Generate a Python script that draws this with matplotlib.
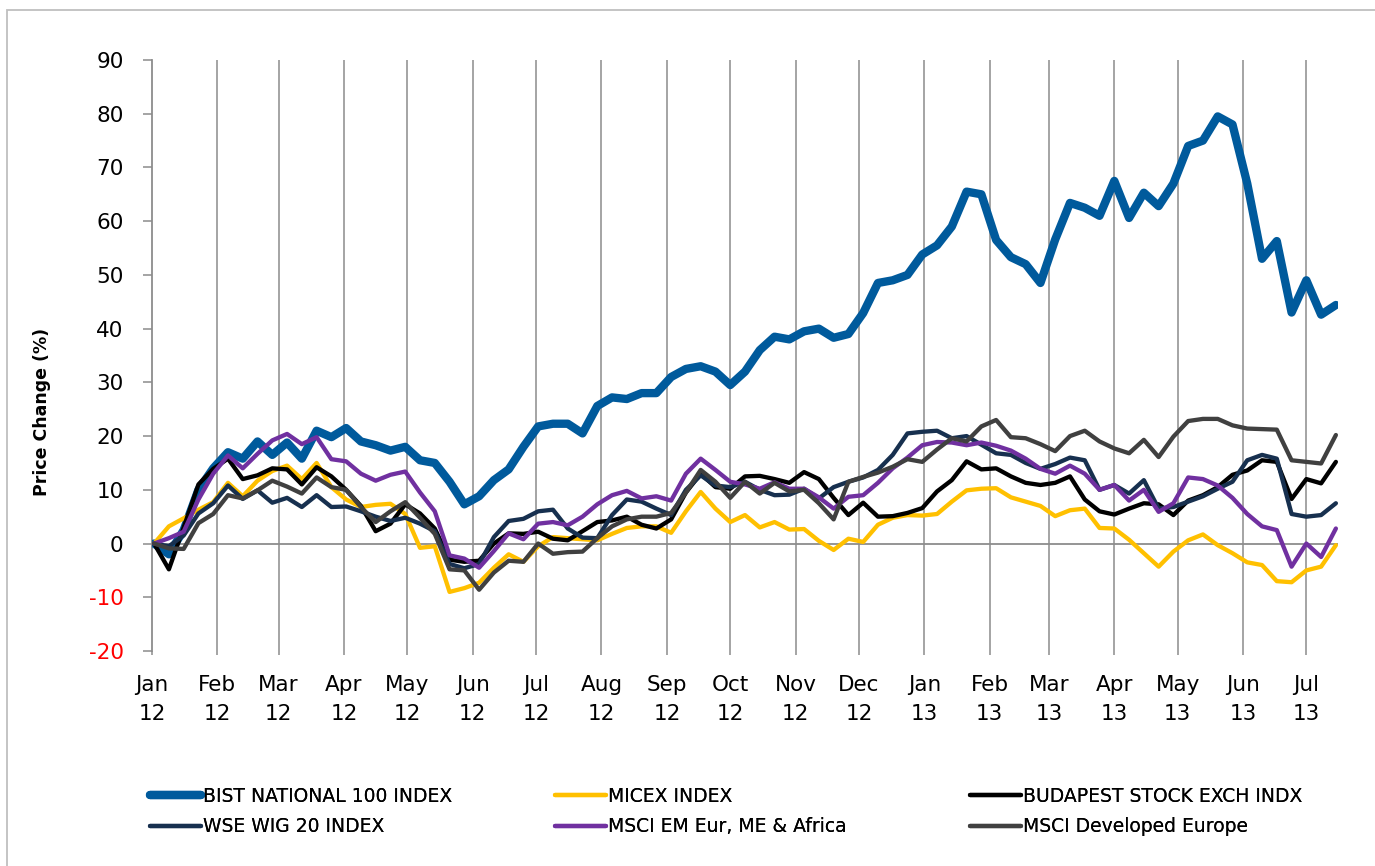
import numpy as np
import pandas as pd
import matplotlib
matplotlib.use("Agg")
import matplotlib.pyplot as plt
from matplotlib.patches import Rectangle
from matplotlib.lines import Line2D

plt.rcParams['font.family'] = ['DejaVu Sans']

# ---- data (weekly observations, % price change since start of 2012) ----
dates = pd.date_range("2012-01-02", periods=81, freq="7D")

bist = [0, -2, 2.5, 10, 14, 17, 15.8, 19, 16.5, 18.8,
        15.8, 21, 19.8, 21.5, 19, 18.3, 17.3, 18, 15.5, 15,
        11.5, 7.3, 8.8, 11.8, 13.8, 18, 21.8, 22.3, 22.3, 20.5,
        25.6, 27.2, 26.9, 28, 28, 31, 32.5, 33, 32, 29.5,
        32, 36, 38.5, 38, 39.5, 40, 38.3, 39, 42.9, 48.5,
        49, 50, 53.8, 55.5, 59, 65.5, 65, 56.5, 53.3, 52,
        48.5, 56.6, 63.4, 62.5, 61, 67.5, 60.6, 65.3, 62.8, 67,
        74, 75, 79.5, 78, 67, 53, 56.3, 43, 49, 42.6,
        44.4]

micex = [0, 3.2, 4.7, 6.3, 7.7, 11.3, 8.8, 11.7, 13.5, 14.5,
         12, 15, 10.5, 8.2, 6.8, 7.2, 7.4, 5.5, -0.8, -0.5,
         -9, -8.3, -7.3, -4.5, -2, -3.4, -0.5, 1.2, 1, 0.8,
         0.6, 1.8, 2.9, 3.2, 3.2, 2, 6, 9.6, 6.5, 4,
         5.3, 3, 4, 2.6, 2.7, 0.5, -1.2, 0.9, 0.3, 3.5,
         4.8, 5.3, 5.2, 5.5, 7.8, 9.9, 10.2, 10.3, 8.6, 7.8,
         7, 5.1, 6.2, 6.5, 2.9, 2.8, 0.7, -1.8, -4.3, -1.5,
         0.6, 1.7, -0.3, -1.8, -3.5, -4, -7, -7.2, -5, -4.3,
         -0.3]

budapest = [0, -4.8, 3, 11, 13.9, 15.8, 12, 12.7, 14, 13.8,
            11, 14.2, 12.5, 10, 7, 2.3, 3.7, 7.3, 5.6, 2.8,
            -3, -3.4, -3.2, 0, 1.9, 1.8, 2.2, 0.9, 0.6, 2.3,
            4, 4.3, 5, 3.5, 2.8, 4.5, 9.5, 13, 10.5, 10.2,
            12.5, 12.6, 12, 11.3, 13.3, 12, 8.5, 5.3, 7.6, 5,
            5.1, 5.7, 6.6, 9.7, 11.8, 15.3, 13.8, 14, 12.5, 11.3,
            10.9, 11.3, 12.5, 8.2, 6, 5.4, 6.5, 7.5, 7.3, 5.3,
            8, 9, 10.5, 12.8, 13.6, 15.5, 15.2, 8.3, 12, 11.2,
            15.2]

wse_wig20 = [0, -0.5, 1.5, 5.6, 7.5, 10.8, 8.3, 9.9, 7.6, 8.5,
             6.8, 9, 6.8, 6.9, 6, 5, 4.2, 4.8, 3.7, 2.3,
             -3.8, -4.6, -3.8, 1.2, 4.2, 4.6, 6, 6.3, 2.8, 1.1,
             1, 5.3, 8.2, 7.8, 6.5, 5.3, 10, 12.7, 10.8, 10.5,
             11.5, 10, 9, 9.1, 10.2, 8.4, 10.5, 11.5, 12.3, 13.7,
             16.5, 20.5, 20.8, 21, 19.6, 20, 18.4, 16.8, 16.5, 15,
             13.9, 14.8, 16, 15.5, 10, 10.9, 9.3, 11.8, 6.5, 6.8,
             7.8, 8.8, 10.2, 11.5, 15.5, 16.5, 15.8, 5.5, 5, 5.3,
             7.5]

msci_em = [0, 1, 2.2, 8.2, 13, 16.4, 14, 16.7, 19.2, 20.4,
           18.5, 19.8, 15.7, 15.3, 13, 11.7, 12.8, 13.4, 9.5, 6,
           -2.2, -2.8, -4.5, -1.4, 1.9, 0.8, 3.7, 4, 3.4, 5,
           7.3, 9, 9.8, 8.4, 8.8, 8, 13, 15.8, 13.7, 11.5,
           11, 10.2, 11.4, 10.2, 10.2, 8.6, 6.5, 8.7, 9, 11.3,
           14, 16, 18.3, 18.9, 18.8, 18.3, 18.8, 18.2, 17.3, 15.8,
           13.9, 13, 14.5, 13, 10, 10.9, 8, 10, 5.9, 7.5,
           12.3, 12, 10.8, 8.5, 5.5, 3.2, 2.5, -4.3, 0, -2.5,
           2.8]

msci_dev_europe = [0, -0.9, -1, 3.8, 5.5, 9, 8.4, 9.9, 11.7, 10.6,
                   9.3, 12.3, 10.5, 10, 6.8, 4, 6, 7.7, 4.8, 1.8,
                   -4.8, -5, -8.6, -5.4, -3.2, -3.4, 0, -1.9, -1.6, -1.5,
                   1, 3.2, 4.5, 5, 5, 5.7, 9.5, 13.7, 11.5, 8.5,
                   11.5, 9.3, 11.3, 9.7, 10, 7.5, 4.5, 11.5, 12.4, 13.2,
                   14.3, 15.7, 15.2, 17.5, 19.6, 19, 21.8, 23, 19.8, 19.6,
                   18.5, 17.2, 20, 21, 19, 17.7, 16.8, 19.3, 16.1, 19.9,
                   22.8, 23.2, 23.2, 22, 21.4, 21.3, 21.2, 15.5, 15.2, 14.9,
                   20.2]

series_names = ["BIST NATIONAL 100 INDEX", "MICEX INDEX", "BUDAPEST STOCK EXCH INDX",
                "WSE WIG 20 INDEX", "MSCI EM Eur, ME & Africa", "MSCI Developed Europe"]
series_values = [bist, micex, budapest, wse_wig20, msci_em, msci_dev_europe]
series_colors = ["#005A9C", "#FFC000", "#000000", "#17304F", "#7030A0", "#404040"]
series_widths = [6.0, 3.1, 3.1, 3.1, 3.1, 3.1]

month_ticks = pd.date_range("2012-01-01", "2013-07-01", freq="MS")
month_labels = [d.strftime("%b") + "\n" + d.strftime("%y") for d in month_ticks]
y_ticks = list(range(-20, 91, 10))

# ---- figure ----
W, H = 1375, 866
fig = plt.figure(figsize=(W / 100, H / 100), dpi=100)
fig.patch.set_facecolor("white")

left_px, right_px, top_px, bottom_px = 152, 1338, 60, 651
ax = fig.add_axes([left_px / W, 1 - bottom_px / H,
                   (right_px - left_px) / W, (bottom_px - top_px) / H])

grid_color = "#8C8C8C"
for mt in month_ticks[1:]:
    ax.axvline(mt, color=grid_color, lw=1.1, zorder=1)
ax.axhline(0, color=grid_color, lw=1.3, zorder=1)

for name, vals, col, lw in zip(series_names, series_values, series_colors, series_widths):
    ax.plot(dates, vals, color=col, lw=lw, label=name, zorder=3,
            solid_joinstyle="round", solid_capstyle="round")

ax.set_xlim(pd.Timestamp("2012-01-01"), pd.Timestamp("2013-07-16"))
ax.set_ylim(-20, 90)
ax.set_yticks(y_ticks)
ax.set_yticklabels([str(v) for v in y_ticks])
for lab, v in zip(ax.get_yticklabels(), y_ticks):
    lab.set_color("#FF0000" if v < 0 else "black")

ax.set_xticks(month_ticks)
ax.set_xticklabels(month_labels, linespacing=1.6)

for sp in ["top", "right", "bottom"]:
    ax.spines[sp].set_visible(False)
ax.spines["left"].set_color(grid_color)
ax.spines["left"].set_linewidth(1.3)

ax.tick_params(axis="y", direction="out", length=6.5, width=1.1, color=grid_color,
               labelsize=15.5, pad=14)
ax.tick_params(axis="x", direction="out", length=3, width=1.1, color=grid_color,
               labelsize=15.5, pad=14)

fig.text(42 / W, 1 - 412 / H, "Price Change (%)", rotation=90, fontsize=12.5,
         fontweight="bold", ha="center", va="center")

# ---- legend: three columns ----
handles = [Line2D([0], [0], color=c, lw=lw, solid_capstyle="round")
           for c, lw in zip(series_colors, series_widths)]
col_x = [150, 555, 970]
for ci in range(3):
    hs = [handles[ci], handles[ci + 3]]
    ls = [series_names[ci], series_names[ci + 3]]
    leg = fig.legend(hs, ls, loc="upper left",
                     bbox_to_anchor=(col_x[ci] / W, 1 - 787 / H),
                     frameon=False, fontsize=13.5, handlelength=2.7,
                     handletextpad=0.12, labelspacing=0.6,
                     borderpad=0, borderaxespad=0)
    fig.add_artist(leg)

# outer border (right and bottom edges lie outside the image)
fig.patches.append(Rectangle((7 / W, -0.05), 1.2, 1.05 - 10 / H,
                             transform=fig.transFigure, fill=False,
                             edgecolor="#BFBFBF", lw=1.3))

fig.savefig("out.png", dpi=100)
